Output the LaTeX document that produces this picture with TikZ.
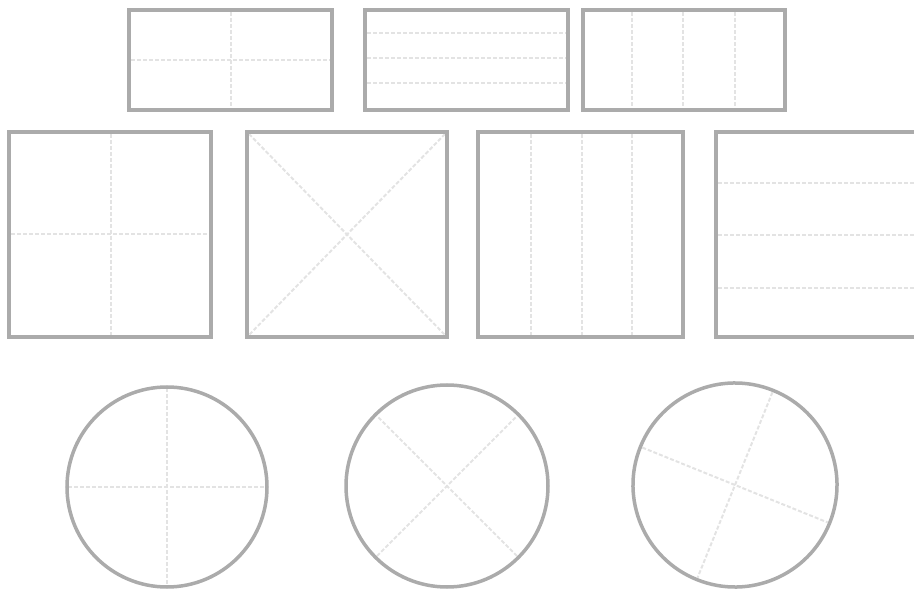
\documentclass[tikz,border=0pt]{standalone}
\begin{document}
\begin{tikzpicture}[x=1pt,y=-1pt,
  frame/.style={draw=black!33, line width=3.5pt},
  guide/.style={draw=black!11, line width=2pt, dash pattern=on 4pt off 2pt}]
\useasboundingbox (0,0) rectangle (914,596);
% top row
\draw[guide] (231,12) -- (231,108);
\draw[guide] (131,60) -- (330,60);
\draw[frame] (129,10) rectangle (332,110);
\foreach \y in {33,58,83} \draw[guide] (367,\y) -- (566,\y);
\draw[frame] (365,10) rectangle (568,110);
\foreach \x in {632,683,735} \draw[guide] (\x,12) -- (\x,108);
\draw[frame] (583,10) rectangle (785,110);
% middle row
\draw[guide] (111,134) -- (111,335);
\draw[guide] (11,234) -- (209,234);
\draw[frame] (9,132) rectangle (211,337);
\draw[guide] (249,134) -- (445,335);
\draw[guide] (445,134) -- (249,335);
\draw[frame] (247,132) rectangle (447,337);
\foreach \x in {531,582,632} \draw[guide] (\x,134) -- (\x,335);
\draw[frame] (478,132) rectangle (683,337);
\foreach \y in {183,235,288} \draw[guide] (718,\y) -- (914,\y);
\draw[frame] (716,132) rectangle (917,337);
% circles
\begin{scope}[shift={(167,487)}]
  \draw[guide] (0,-99) -- (0,99);
  \draw[guide] (-99,0) -- (99,0);
  \draw[frame] (0,0) circle[radius=100];
\end{scope}
\begin{scope}[shift={(447,486)}]
  \draw[guide] (135:99) -- (-45:99);
  \draw[guide] (45:99) -- (-135:99);
  \draw[frame] (0,0) circle[radius=101];
\end{scope}
\begin{scope}[shift={(735,485)},rotate=-22]
  \draw[guide] (0,-100) -- (0,100);
  \draw[guide] (-100,0) -- (100,0);
  \draw[frame] (0,0) circle[radius=102];
\end{scope}
\end{tikzpicture}
\end{document}
